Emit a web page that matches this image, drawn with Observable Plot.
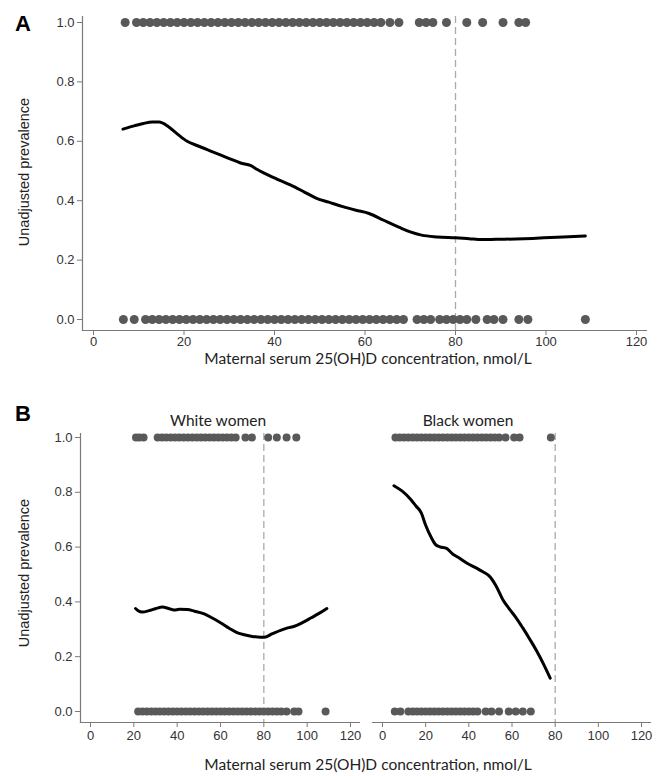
<!DOCTYPE html>
<html>
<head>
<meta charset="utf-8">
<script src="https://cdn.jsdelivr.net/npm/d3@7"></script>
<script src="https://cdn.jsdelivr.net/npm/@observablehq/plot@0.6"></script>
<style>
  html, body { margin: 0; padding: 0; background: #fff; }
  #root { position: relative; width: 665px; height: 776px; overflow: hidden; font-family: "Liberation Sans", Arial, sans-serif; }
  .abs { position: absolute; }
  .panel { position: absolute; font-weight: bold; font-size: 22px; line-height: 1; font-family: "Liberation Sans", Arial, sans-serif; color: #000; transform: translate(-50%, -50%); }
  .ttl { position: absolute; font-family: Lato, "Open Sans", sans-serif; font-size: 15.5px; line-height: 1; color: #222; white-space: nowrap; transform: translate(-50%, -50%); }
  .ylab { position: absolute; font-family: "Liberation Sans", Arial, sans-serif; font-size: 14.5px; line-height: 1; color: #222; white-space: nowrap; transform: translate(-50%, -50%) rotate(-90deg); }
</style>
</head>
<body>
<div id="root"></div>
<script>
// ---------- data ----------
const xTicks = [0, 20, 40, 60, 80, 100, 120];
const yTicks = [0, 0.2, 0.4, 0.6, 0.8, 1.0];
const cutoff = 80;
const xTitle = "Maternal serum 25(OH)D concentration, nmol/L";
const yTitle = "Unadjusted prevalence";
const groups = ["White women", "Black women"];

// Panel A: individual outcomes (1 = case, 0 = non-case), x = 25(OH)D
const aCasesX = [7, 9.5, 11, 12.5, 14, 15.5, 17, 18.5, 20, 21.5, 23, 24.5, 26, 27.5, 29, 30.5, 32, 33.5, 35, 36.5, 38, 39.5, 41, 42.5, 44, 45.5, 47, 48.5, 50, 51.5, 53, 54.5, 56, 57.5, 59, 60.5, 62, 63.5, 65.5, 67.5, 72, 73.5, 75, 78, 82.5, 86, 90.5, 94, 95.5];
const aNonX = [6.6, 9, 11.5, 13, 14.5, 16, 17.5, 19, 20.5, 22, 23.5, 25, 26.5, 28, 29.5, 31, 32.5, 34, 35.5, 37, 38.5, 40, 41.5, 43, 44.5, 46, 47.5, 49, 50.5, 52, 53.5, 55, 56.5, 58, 59.5, 61, 62.5, 64, 65.5, 67, 68.5, 71.5, 73, 74.5, 76.5, 78, 79.5, 81, 82.5, 84.5, 87, 88.5, 90.5, 94, 96, 108.7];
// Panel A: smoothed prevalence
const aCurveX = [6.5, 9, 11, 13, 14.5, 16.5, 18.5, 20.7, 23, 26.6, 30, 32.5, 34.8, 36.2, 37.7, 40.5, 43.5, 46.5, 49.3, 52, 55.1, 58, 60.9, 64, 67.6, 70, 72.5, 76, 80, 83, 85.8, 89, 93.3, 97, 101, 105, 108.7];
const aCurveY = [0.641, 0.652, 0.66, 0.665, 0.665, 0.65, 0.625, 0.6, 0.585, 0.563, 0.542, 0.527, 0.518, 0.505, 0.493, 0.473, 0.453, 0.43, 0.408, 0.395, 0.38, 0.368, 0.357, 0.335, 0.31, 0.295, 0.284, 0.278, 0.275, 0.272, 0.269, 0.27, 0.271, 0.273, 0.276, 0.279, 0.281];

// Panel B, white women
const wCasesX = [21, 22.5, 24.5, 31, 33, 35, 37, 39, 41, 43, 45, 47, 49, 51, 53, 55, 57, 59, 61, 63, 65, 67, 71.5, 74.5, 82, 86, 90.5, 95];
const wNonX = [22, 24, 26, 28, 30, 32, 34, 36, 38, 40, 42, 44, 46, 48, 50, 52, 54, 56, 58, 60, 62, 64, 66, 68, 70, 72, 74, 76, 78, 80, 82, 84, 86, 88, 90.5, 94, 96, 108.5];
const wCurveX = [20.8, 22, 23.9, 27, 30, 33.2, 36, 38.6, 41, 44.7, 48, 52.5, 56, 60.2, 64, 67.9, 71, 74.1, 77, 80.2, 84, 88, 91, 94.1, 98, 101.9, 105.5, 109.1];
const wCurveY = [0.376, 0.368, 0.363, 0.368, 0.375, 0.381, 0.376, 0.37, 0.373, 0.372, 0.366, 0.356, 0.342, 0.323, 0.304, 0.287, 0.28, 0.275, 0.272, 0.271, 0.284, 0.297, 0.305, 0.311, 0.325, 0.342, 0.358, 0.376];

// Panel B, black women
const bCasesX = [6, 8, 10, 12, 14, 16, 18, 20, 22, 24, 26, 28, 30, 32, 34, 36, 38, 40, 42, 44, 46, 48, 50, 52, 54, 57, 61, 63.5, 78];
const bNonX = [5.7, 8.3, 12, 14, 16, 18, 20, 22, 24, 26, 28, 30, 32, 34, 36, 38, 40, 42, 44, 47.8, 50.5, 54, 58.5, 61.7, 65, 68.7];
const bCurveX = [5.3, 9, 13.2, 15.5, 17.9, 20, 22.6, 24.5, 26.6, 29.7, 32.5, 35.2, 39, 43.1, 46.5, 49.4, 52.5, 55.7, 59, 61.9, 65, 68.3, 71.5, 74.5, 77.7];
const bCurveY = [0.824, 0.805, 0.773, 0.75, 0.726, 0.68, 0.635, 0.61, 0.601, 0.595, 0.575, 0.562, 0.542, 0.525, 0.51, 0.495, 0.46, 0.409, 0.372, 0.342, 0.305, 0.263, 0.22, 0.175, 0.122];

// ---------- helpers ----------
const DOT = "#595959", AXIS = "#7a7a7a", TXT = "#333";
const pts = (xs, v) => xs.map(x => ({x, y: v}));
const crv = (xs, ys) => xs.map((x, i) => ({x, y: ys[i]}));

function panel({cases, non, curveX, curveY, width, height, mL, mR, mT, mB, iL, iR, iT, iB, showY, r, pad}) {
  return Plot.plot({
    width, height,
    marginLeft: mL, marginRight: mR, marginTop: mT, marginBottom: mB,
    insetLeft: iL, insetRight: iR, insetTop: iT, insetBottom: iB,
    style: {fontFamily: "'Liberation Sans', Arial, sans-serif", fontSize: "13px", color: TXT, background: "white", overflow: "visible"},
    x: {domain: [0, 120], ticks: xTicks, label: null},
    y: {domain: [0, 1], ticks: yTicks, label: null, axis: null},
    marks: [
      Plot.frame({anchor: "bottom", stroke: AXIS, strokeWidth: 1.2}),
      showY ? Plot.frame({anchor: "left", stroke: AXIS, strokeWidth: 1.2}) : null,
      Plot.axisX({ticks: xTicks, tickSize: 5, tickPadding: pad, stroke: AXIS, fill: TXT, fontSize: 13, label: null}),
      showY ? Plot.axisY({ticks: yTicks, tickSize: 5, tickPadding: 3, tickFormat: d3.format(".1f"), stroke: AXIS, fill: TXT, fontSize: 13, label: null}) : null,
      Plot.ruleX([cutoff], {stroke: "#aaaaaa", strokeWidth: 1.3, strokeDasharray: "7,4"}),
      Plot.dot(pts(cases, 1), {x: "x", y: "y", r, fill: DOT, stroke: null}),
      Plot.dot(pts(non, 0), {x: "x", y: "y", r, fill: DOT, stroke: null}),
      Plot.line(crv(curveX, curveY), {x: "x", y: "y", stroke: "#000", strokeWidth: 3, curve: "monotone-x"})
    ]
  });
}

const root = document.getElementById("root");
function place(node, left, top) {
  const d = document.createElement("div");
  d.className = "abs";
  d.style.left = left + "px"; d.style.top = top + "px";
  d.appendChild(node);
  root.appendChild(d);
}
function label(cls, text, x, y) {
  const d = document.createElement("div");
  d.className = cls; d.textContent = text;
  d.style.left = x + "px"; d.style.top = y + "px";
  root.appendChild(d);
}

// Panel A
place(panel({cases: aCasesX, non: aNonX, curveX: aCurveX, curveY: aCurveY,
  width: 665, height: 360, mL: 82, mR: 19, mT: 16, mB: 30, iL: 11, iR: 10, iT: 6, iB: 11, showY: true, r: 4.5, pad: 1}), 0, 0);
label("panel", "A", 23, 24);
label("ylab", yTitle, 24, 172);
label("ttl", xTitle, 368, 359);

// Panel B
place(panel({cases: wCasesX, non: wNonX, curveX: wCurveX, curveY: wCurveY,
  width: 365, height: 350, mL: 80, mR: 6, mT: 33, mB: 28, iL: 10, iR: 9, iT: 4, iB: 11, showY: true, r: 4, pad: 3}), 0, 400);
place(panel({cases: bCasesX, non: bNonX, curveX: bCurveX, curveY: bCurveY,
  width: 300, height: 350, mL: 7, mR: 15, mT: 33, mB: 28, iL: 10, iR: 9, iT: 4, iB: 11, showY: false, r: 4, pad: 3}), 365, 400);
label("panel", "B", 23, 414);
label("ttl", groups[0], 218, 421);
label("ttl", groups[1], 468, 421);
label("ylab", yTitle, 24, 573);
label("ttl", xTitle, 368, 765);
</script>
</body>
</html>
